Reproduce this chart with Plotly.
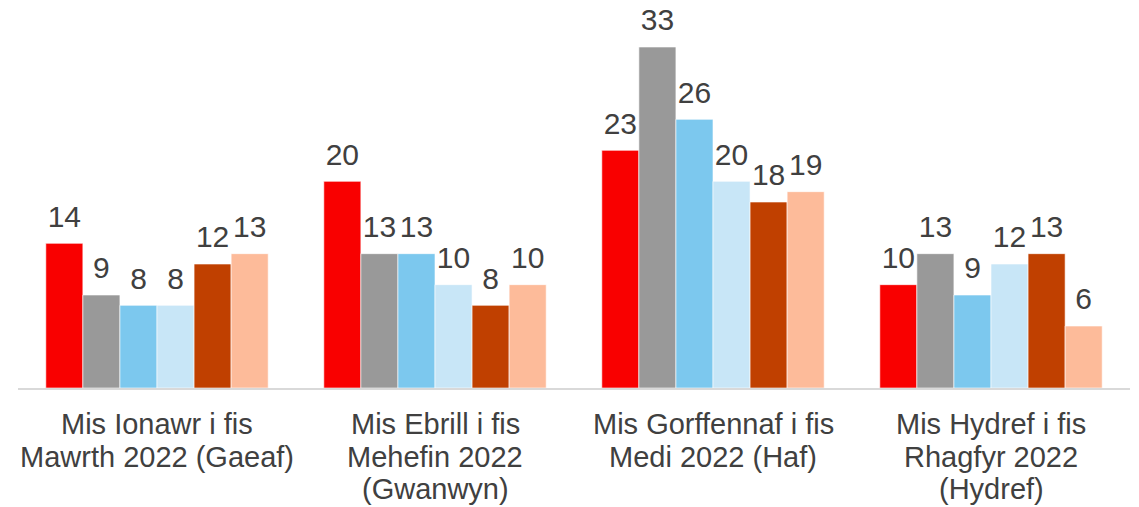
import plotly.graph_objects as go

categories = ["G1", "G2", "G3", "G4"]
category_labels = [
    ["Mis Ionawr i fis", "Mawrth 2022 (Gaeaf)"],
    ["Mis Ebrill i fis", "Mehefin 2022", "(Gwanwyn)"],
    ["Mis Gorffennaf i fis", "Medi 2022 (Haf)"],
    ["Mis Hydref i fis", "Rhagfyr 2022", "(Hydref)"],
]
series_names = ["Cyfres 1", "Cyfres 2", "Cyfres 3", "Cyfres 4", "Cyfres 5", "Cyfres 6"]
series_1 = [14, 20, 23, 10]
series_2 = [9, 13, 33, 13]
series_3 = [8, 13, 26, 9]
series_4 = [8, 10, 20, 12]
series_5 = [12, 8, 18, 13]
series_6 = [13, 10, 19, 6]
series_values = [series_1, series_2, series_3, series_4, series_5, series_6]
colors = ["#F90000", "#999999", "#7CC8EE", "#C8E6F7", "#C04000", "#FDBB9A"]

FONT = "Liberation Sans, Arial, sans-serif"
TEXT = "#404040"

fig = go.Figure()
for name, vals, col in zip(series_names, series_values, colors):
    fig.add_trace(go.Bar(
        x=categories, y=vals, name=name,
        marker=dict(color=col, line=dict(color="rgba(255,255,255,0.6)", width=1)),
        offsetgroup=name, alignmentgroup="a",
        hoverinfo="skip",
    ))
for name, vals in zip(series_names, series_values):
    fig.add_trace(go.Scatter(
        x=categories, y=vals, mode="markers+text", text=[str(v) for v in vals],
        textposition="top center",
        textfont=dict(family=FONT, size=30, color=TEXT),
        marker=dict(size=13, opacity=0),
        offsetgroup=name, alignmentgroup="a",
        showlegend=False, hoverinfo="skip", cliponaxis=False,
    ))

# multi-line category labels with tight line spacing
for cat, lines in zip(categories, category_labels):
    for i, line in enumerate(lines):
        fig.add_annotation(
            x=cat, xref="x", y=0, yref="y", text=line, showarrow=False,
            xanchor="center", yanchor="middle", yshift=-(36 + 32.5 * i),
            font=dict(family=FONT, size=29, color=TEXT),
        )

fig.update_layout(
    width=1131, height=499,
    margin=dict(l=10, r=9, t=8, b=119),
    barmode="group", bargap=0.2, bargroupgap=0,
    scattermode="group", scattergap=0.2,
    plot_bgcolor="white", paper_bgcolor="white",
    showlegend=False,
    font=dict(family=FONT, color=TEXT),
)
fig.update_xaxes(
    showticklabels=False,
    showline=True, linecolor="#D9D9D9", linewidth=2,
    ticks="", showgrid=False, automargin=False,
)
fig.update_yaxes(range=[0, 36], visible=False, automargin=False)

fig.write_html("out.html")
